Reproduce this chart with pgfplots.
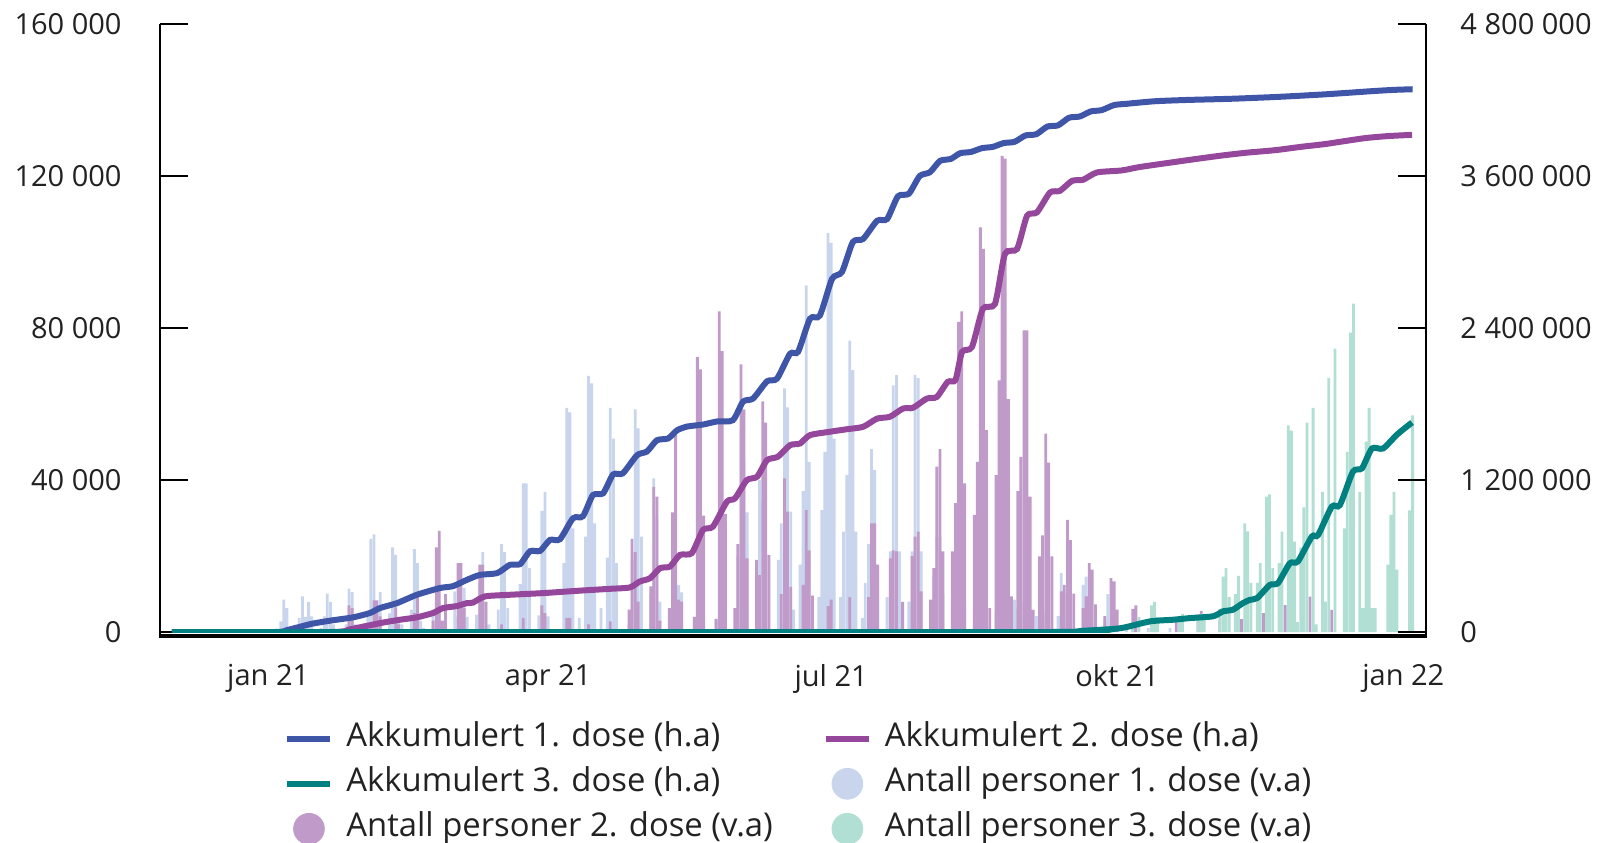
\documentclass[border=0pt]{standalone}
\usepackage{fontspec}
\setmainfont{Open Sans}
\usepackage{pgfplots}
\pgfplotsset{compat=1.18}
\definecolor{barA}{RGB}{200,213,236}
\definecolor{barB}{RGB}{192,154,201}
\definecolor{barC}{RGB}{177,223,211}
\definecolor{lineA}{RGB}{63,86,168}
\definecolor{lineB}{RGB}{148,71,155}
\definecolor{lineC}{RGB}{0,128,128}
\definecolor{txt}{RGB}{34,34,34}
\begin{document}
\fontsize{14.5}{17.4}\selectfont
\begin{tikzpicture}
\useasboundingbox (-80pt,-104pt) rectangle (719.5pt,317pt);
\begin{axis}[
  at={(0pt,1pt)}, anchor=south west,
  width=633pt, height=304pt, scale only axis,
  xmin=-34.8, xmax=372.3, ymin=0, ymax=160,
  axis lines=left, axis line style={draw=none},
  tick align=inside, major tick length=14pt,
  ytick={0,40,80,120,160},
  yticklabels={0,40 000,80 000,120 000,160 000},
  xtick={0,90,181,273,365},
  xticklabels={jan 21,apr 21,jul 21,okt 21,jan 22},
  major x tick style={draw=none},
  major y tick style={black, line width=1.25pt},
  tick label style={font=\fontsize{14.5}{17.4}\selectfont, text=txt},
  yticklabel style={xshift=-14.2pt},
  xticklabel style={yshift=-11pt},
]
\addplot[ybar, bar width=0.9, bar shift=0pt, fill=barA, draw=none] coordinates {
(3,0.5)(4,2.8)(5,8.5)(6,6.3)(7,1)
(10,3.7)(11,9.4)(12,4)(13,7.9)(14,4.1)
(17,1)(18,4.1)(19,10.1)(20,7.9)(21,2)
(25,2)(26,11.4)(27,10.5)(28,2)
(32,5.4)(33,24.5)(34,25.7)(35,6)(36,10.5)
(39,4.9)(40,22.3)(41,20.3)(42,3)(43,2)
(46,5.9)(47,21.8)(48,18.1)(49,3)(50,1)
(53,5.9)(54,3)(55,7.9)(56,2)
(60,10.7)(61,4)(62,2)(63,11.6)(64,4)
(67,4.6)(68,12.9)(69,21)(70,8)(71,2)
(74,5.9)(75,23.1)(76,21)(77,6.3)
(81,12.6)(82,39.1)(83,39.1)(84,16.8)
(87,4.4)(88,31.9)(89,36.9)(90,4.1)
(95,18.1)(96,59)(97,57.8)(98,27.3)(100,3.7)
(102,25.1)(103,67.4)(104,65.4)(105,28.6)(107,6.3)
(109,19.6)(110,59)(111,50.9)(112,18.1)
(116,2)(117,19)(118,58.6)(119,53.6)(120,25.1)
(123,10)(124,40.4)(125,30)(126,8)
(130,15.9)(131,12)(132,12.4)(133,10.4)
(137,4)(138,3)(144,3.5)(145,3)
(151,20)(152,53.1)(153,45)(154,31.5)
(157,15.5)(158,40)(159,35)(160,20)
(164,19)(165,28.6)(166,64.1)(167,59.1)(168,31.7)(169,5.9)
(171,17.7)(172,37.1)(173,91.2)(174,44.8)(175,9.6)
(177,9.2)(178,32.1)(179,47.4)(180,105)(181,102.4)(182,50.9)
(184,9.2)(185,26.4)(186,41.3)(187,76.7)(188,68.9)(189,26.4)
(191,3.7)(192,12.9)(193,23.1)(194,48.1)(195,42.6)(196,16.4)
(199,9.2)(200,21.2)(201,64.9)(202,67.6)(203,21.2)
(206,8)(207,21.2)(208,67.6)(209,66.9)(210,21.2)
(213,8)(214,15)(215,25)(216,25)(217,10)
(220,8)(221,15)(222,20)(223,20)(224,8)
(227,6)(228,10)(229,14)(230,14)(231,6)
(234,5)(235,8)(236,10)(237,10)(238,4)
(240,8.5)(241,6)(242,8)(243,8)
(247,4.2)(248,6)(249,6)(250,5)
(254,4.2)(255,15.5)(256,10)(257,8)(258,20)
(262,12.4)(263,14.6)
(269,3)(270,10)(276,1.5)(283,1)(290,1)
};
\addplot[ybar, bar width=0.9, bar shift=0pt, fill=barB, draw=none] coordinates {
(26,7)(27,6.3)(28,1)
(33,2)(34,8.3)(35,8.3)(36,4.1)
(41,6.5)(42,2)
(47,5)(48,9.4)
(53,3)(54,22.3)(55,26.6)(56,3)(57,10)
(61,18.1)(62,18.1)(63,6.3)
(68,17.7)(69,17.7)(70,7.9)
(75,2)(82,3.7)(88,7)(89,5)(96,3.7)(97,3.7)(103,2)(110,2.8)
(116,5.9)(117,24.5)(118,21)(119,8)
(123,12)(124,38.2)(125,35.6)(126,3)
(129,6.3)(130,31.5)(131,51.8)(132,8.5)(133,8)
(137,4)(138,72.4)(139,69.1)(140,30.6)
(144,3.4)(145,84.4)(146,73.9)(147,31.1)
(150,6.3)(151,23.1)(152,70.4)(153,58.6)(154,19.4)
(157,19)(158,15)(159,60.7)(160,55.1)(161,20.3)
(165,10)(166,40.4)(167,31.7)(168,11.9)
(172,12.4)(173,32.1)(174,21.5)(175,9.6)
(180,6.8)(181,8.5)(187,9.2)
(193,9.2)(194,28.6)(195,28.6)(196,17.7)
(200,19.4)(201,21.5)(202,21.2)(204,7.9)
(207,20)(208,25.1)(209,26.4)(210,10.7)
(213,8.5)(214,16.8)(215,43.5)(216,48.1)(217,21.2)
(220,21.2)(221,33.9)(222,81.6)(223,84.4)(224,39.1)
(227,30.8)(228,44.8)(229,106.5)(230,100.8)(231,53.1)(232,6.3)
(234,41.3)(235,66.2)(236,125.3)(237,124.6)(238,61.3)(239,9.4)
(241,37.1)(242,46.1)(243,79.4)(244,79.4)(245,35.6)(246,5.8)
(248,19.9)(249,25.4)(250,52.2)(251,44.6)(252,19.9)
(255,10.7)(256,12.4)(257,29.5)(258,24.2)(259,10.1)
(262,6.3)(263,9.4)(264,18.1)(265,16.4)(266,7.3)
(269,4.2)(271,14.2)(272,13.3)(273,5.9)
(278,6.1)(279,7)(285,4.6)(292,3.6)(299,4.6)(300,5.5)(306,3)(313,3.4)
(320,5)(327,7.1)(335,9.3)(342,5.8)
};
\addplot[ybar, bar width=0.9, bar shift=0pt, fill=barC, draw=none] coordinates {
(278,2.6)(280,3.9)(284,7)(285,7.9)(286,3.9)(293,2.6)(294,4.8)
(299,3.9)(300,4.8)(301,4.8)
(306,6.1)(307,14.6)(308,16.8)(309,9.2)
(311,10)(312,14.8)(314,28.6)(315,26.5)(316,12.9)
(318,12.9)(319,18.1)(321,35.6)(322,36.2)(323,16.8)
(325,18.1)(326,26.4)(328,54.4)(329,53)(330,23.8)(331,2.6)
(332,22.2)(333,32.8)(334,55.1)(336,59)(337,2)
(339,36.9)(340,8)(341,66.9)(343,74.6)
(346,27.3)(347,47.4)(348,78.8)(349,86.4)(351,36.9)(352,6.3)
(353,50.1)(354,59)(355,6.3)(356,6.3)
(360,17.7)(361,30.8)(362,36.9)(363,16.4)
(367,32)(368,57)
};
\end{axis}
\begin{axis}[
  at={(0pt,1pt)}, anchor=south west,
  width=633pt, height=304pt, scale only axis,
  xmin=-34.8, xmax=372.3, ymin=0, ymax=4.8,
  axis y line*=right, axis x line=none, axis line style={draw=none},
  tick align=inside, major tick length=14pt,
  ytick={0,1.2,2.4,3.6,4.8},
  yticklabels={0,1 200 000,2 400 000,3 600 000,4 800 000},
  major y tick style={black, line width=1.25pt},
  tick label style={font=\fontsize{14.5}{17.4}\selectfont, text=txt},
  yticklabel style={xshift=12.2pt},
  legend columns=2,
  legend cell align=left,
  legend style={at={(0.5,-0.147)}, anchor=north, xshift=2.7pt, draw=none, fill=none,
    inner sep=0pt, row sep=5.5pt,
    font=\fontsize{16.4}{19.5}\selectfont, text=txt,
    nodes={inner sep=0.5pt, text height=12pt, text depth=4pt},
    /tikz/every odd column/.append style={column sep=6pt},
    /tikz/every even column/.append style={column sep=24.5pt}},
  legend image code/.code={\draw[#1] (0pt,0pt) -- (21.5pt,0pt);},
]
\addplot[lineA, line width=3pt, smooth, tension=0.4] coordinates {
(-31,0)(2,0)(6,0.015)(10,0.04)(14,0.065)(20,0.09)(27.3,0.116)(32.7,0.15)(35.9,0.189)
(41.4,0.228)(47.8,0.294)(55.2,0.347)(59.4,0.362)(63.9,0.412)(68.1,0.451)(73.6,0.465)
(77.7,0.53)(81,0.536)(84.2,0.638)(87.4,0.640)(90.6,0.727)(93.8,0.732)(98,0.898)
(101.2,0.914)(104.4,1.081)(107.7,1.095)(110.9,1.244)(114,1.252)(118.6,1.396)
(121.8,1.425)(125,1.514)(128.6,1.528)(131.5,1.593)(134.7,1.622)(139.8,1.638)
(144.3,1.662)(149.4,1.672)(152.7,1.819)(155.9,1.843)(160.4,1.979)(163.6,2.0)
(167.8,2.197)(170.4,2.213)(174.2,2.473)(177.4,2.499)(181.3,2.788)(184.5,2.843)
(188,3.079)(191.3,3.103)(195.8,3.247)(199,3.26)(202.5,3.44)(206,3.46)(209.5,3.6)
(212.8,3.63)(216,3.719)(219.5,3.735)(222.5,3.78)(226,3.79)(229.5,3.82)(233,3.83)
(236.5,3.86)(240,3.87)(243.5,3.92)(247,3.93)(250.5,3.99)(254,4.0)(257.5,4.06)
(261,4.07)(264.5,4.11)(268,4.12)(272,4.16)(276,4.17)(285,4.19)(295,4.20)(310,4.21)
(325,4.225)(340,4.245)(355,4.27)(362,4.28)(368,4.285)
};
\addlegendentry{Akkumulert 1. dose (h.a)}
\addplot[lineB, line width=3pt, smooth, tension=0.4] coordinates {
(-31,0)(20,0)(26,0.02)(30,0.04)(34,0.06)(37,0.075)(42.4,0.097)(47.8,0.116)(53,0.150)(56.2,0.189)(60.7,0.205)
(63.9,0.228)(65.8,0.232)(69.7,0.281)(77.7,0.294)(88.3,0.307)(99.2,0.325)(109.9,0.341)
(116.3,0.352)(119.5,0.399)(122.8,0.425)(126,0.504)(129.2,0.517)(132.4,0.609)
(136.2,0.622)(139.8,0.806)(143,0.832)(147.5,1.029)(150.1,1.055)(153.9,1.199)
(157.2,1.226)(160.4,1.357)(163.9,1.384)(167.8,1.475)(171,1.488)(174.2,1.554)
(180.6,1.581)(186.1,1.601)(191.3,1.620)(195.8,1.685)(199.9,1.699)(204.1,1.764)
(207.3,1.770)(211.8,1.843)(215,1.856)(218.5,1.975)(221,1.99)(223.1,2.211)(226.3,2.250)
(229.8,2.552)(233.7,2.591)(236.9,2.985)(240.8,3.024)(244,3.286)(247.2,3.313)
(251.4,3.470)(254.6,3.483)(258.5,3.562)(262,3.570)(266.5,3.628)(274.5,3.644)
(280,3.67)(291,3.709)(300,3.74)(307.4,3.764)(315,3.785)(323.8,3.804)(332,3.83)
(339.8,3.852)(346,3.875)(353,3.900)(360,3.915)(367.8,3.925)
};
\addlegendentry{Akkumulert 2. dose (h.a)}
\addplot[lineC, line width=3pt, smooth, tension=0.4] coordinates {
(-31,0)(250,0)(262,0.01)(274,0.03)(283.6,0.084)(291,0.097)(296.4,0.110)(303.8,0.124)
(307,0.163)(310.2,0.176)(313.4,0.228)(315.7,0.254)(318,0.268)(322.1,0.372)
(324.7,0.386)(328.5,0.543)(331.1,0.557)(335.6,0.754)(337.6,0.766)(342,0.990)
(344.6,1.002)(348.8,1.266)(351.7,1.292)(354.9,1.449)(358.5,1.449)(363,1.559)
(367.8,1.654)
};
\addlegendentry{Akkumulert 3. dose (h.a)}
\addlegendimage{legend image code/.code={\fill[barA] (10.75pt,0pt) circle (7.7pt);}}
\addlegendentry{Antall personer 1. dose (v.a)}
\addlegendimage{legend image code/.code={\fill[barB] (10.75pt,0pt) circle (7.7pt);}}
\addlegendentry{Antall personer 2. dose (v.a)}
\addlegendimage{legend image code/.code={\fill[barC] (10.75pt,0pt) circle (7.7pt);}}
\addlegendentry{Antall personer 3. dose (v.a)}
\end{axis}
\draw[black, line width=1.4pt] (0pt,305pt) -- (0pt,-1.75pt);
\draw[black, line width=1.4pt] (633pt,305pt) -- (633pt,-1.75pt);
\draw[black, line width=2pt] (-0.7pt,-0.75pt) -- (633.7pt,-0.75pt);
\end{tikzpicture}
\end{document}
